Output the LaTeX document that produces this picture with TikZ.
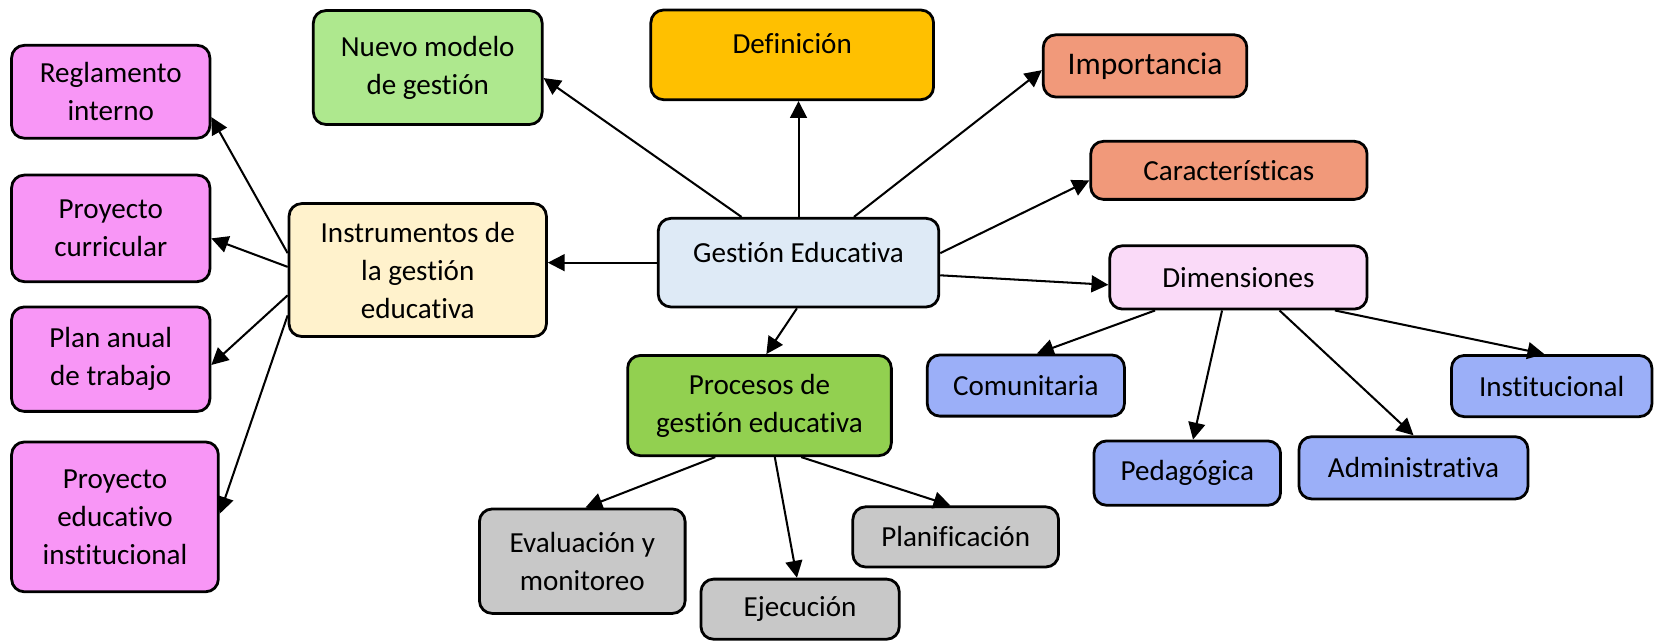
\documentclass[tikz,border=0pt]{standalone}
\usepackage{fontspec}
\setmainfont{Carlito}[Ligatures=NoCommon]
\usetikzlibrary{arrows.meta}
\definecolor{rosa}{HTML}{F896F6}
\definecolor{verdeclaro}{HTML}{AEE88E}
\definecolor{dorado}{HTML}{FFC000}
\definecolor{salmon}{HTML}{F1997A}
\definecolor{crema}{HTML}{FFF2CC}
\definecolor{celeste}{HTML}{DEEAF6}
\definecolor{rosaclaro}{HTML}{FADAF8}
\definecolor{verde}{HTML}{92D050}
\definecolor{gris}{HTML}{C8C8C8}
\definecolor{azul}{HTML}{9BAFF8}
\begin{document}
\begin{tikzpicture}[
    caja/.style={draw=black,line width=1.5pt,rounded corners=0.24cm,align=center,inner sep=2pt,
      font=\fontsize{15.7}{20.5}\selectfont},
    flecha/.style={-{Triangle[length=0.32cm,width=0.32cm]},line width=1.1pt}]
    \useasboundingbox (0,0) rectangle (31.36,12.18);

    % centro
    \node[caja,fill=celeste,minimum width=5.32cm,minimum height=1.68cm,text depth=0.40cm] (gestion) at (15.14,7.20) {Gestión Educativa};

    % arriba
    \node[caja,fill=verdeclaro,minimum width=4.34cm,minimum height=2.16cm] (nuevo) at (8.11,10.90) {Nuevo modelo\\de gestión};
    \node[caja,fill=dorado,minimum width=5.36cm,minimum height=1.70cm,text depth=0.42cm] (defin) at (15.02,11.14) {Definición};
    \node[caja,fill=salmon,minimum width=3.86cm,minimum height=1.18cm,font=\fontsize{17}{20.5}\selectfont] (impor) at (21.71,10.93) {Importancia};
    \node[caja,fill=salmon,minimum width=5.24cm,minimum height=1.10cm] (carac) at (23.30,8.95) {Características};
    \node[caja,fill=rosaclaro,minimum width=4.88cm,minimum height=1.20cm] (dimen) at (23.48,6.92) {Dimensiones};

    % instrumentos
    \node[caja,fill=crema,minimum width=4.88cm,minimum height=2.52cm] (instr) at (7.92,7.06) {Instrumentos de\\la gestión\\educativa};
    \node[caja,fill=rosa,minimum width=3.76cm,minimum height=1.76cm] (regla) at (2.10,10.44) {Reglamento\\interno};
    \node[caja,fill=rosa,minimum width=3.76cm,minimum height=2.02cm] (proycur) at (2.10,7.85) {Proyecto\\curricular};
    \node[caja,fill=rosa,minimum width=3.76cm,minimum height=1.98cm] (plan) at (2.10,5.37) {Plan anual\\de trabajo};
    \node[caja,fill=rosa,minimum width=3.92cm,minimum height=2.84cm] (pei) at (2.18,2.38) {Proyecto\\educativo\\institucional};

    % procesos
    \node[caja,fill=verde,minimum width=5.00cm,minimum height=1.90cm] (procesos) at (14.40,4.49) {Procesos de\\gestión educativa};
    \node[caja,fill=gris,minimum width=3.90cm,minimum height=1.98cm] (evalua) at (11.04,1.54) {Evaluación y\\monitoreo};
    \node[caja,fill=gris,minimum width=3.76cm,minimum height=1.14cm] (ejecu) at (15.17,0.63) {Ejecución};
    \node[caja,fill=gris,minimum width=3.90cm,minimum height=1.14cm] (plani) at (18.12,2.00) {Planificación};

    % dimensiones
    \node[caja,fill=azul,minimum width=3.74cm,minimum height=1.16cm] (comun) at (19.45,4.87) {Comunitaria};
    \node[caja,fill=azul,minimum width=3.54cm,minimum height=1.22cm] (pedag) at (22.51,3.21) {Pedagógica};
    \node[caja,fill=azul,minimum width=4.34cm,minimum height=1.18cm] (admin) at (26.80,3.31) {Administrativa};
    \node[caja,fill=azul,minimum width=3.80cm,minimum height=1.16cm] (insti) at (29.42,4.86) {Institucional};

    % flechas desde el centro
    \draw[flecha] ([xshift=-1.08cm]gestion.north) -- ([yshift=-0.20cm]nuevo.east);
    \draw[flecha] (gestion.north) -- (gestion.north |- defin.south);
    \draw[flecha] ([xshift=1.05cm]gestion.north) -- ([yshift=-0.08cm]impor.west);
    \draw[flecha] ([yshift=0.18cm]gestion.east) -- ([yshift=-0.19cm]carac.west);
    \draw[flecha] ([yshift=-0.24cm]gestion.east) -- ([yshift=-0.14cm]dimen.west);
    \draw[flecha] (gestion.west) -- (gestion.west -| instr.east);
    \draw[flecha] ([xshift=-0.03cm]gestion.south) -- ([xshift=0.13cm]procesos.north);

    % instrumentos
    \draw[flecha] ([yshift=0.32cm]instr.west) -- ([yshift=-0.48cm]regla.east);
    \draw[flecha] ([yshift=0.06cm]instr.west) -- ([yshift=-0.19cm]proycur.east);
    \draw[flecha] ([yshift=-0.48cm]instr.west) -- ([yshift=-0.11cm]plan.east);
    \draw[flecha] ([yshift=-0.86cm]instr.west) -- ([yshift=0.06cm]pei.east);

    % procesos
    \draw[flecha] ([xshift=-0.84cm]procesos.south) -- ([xshift=0.06cm]evalua.north);
    \draw[flecha] ([xshift=0.29cm]procesos.south) -- ([xshift=-0.06cm]ejecu.north);
    \draw[flecha] ([xshift=0.79cm]procesos.south) -- ([xshift=-0.10cm]plani.north);

    % dimensiones
    \draw[flecha] ([xshift=-1.58cm]dimen.south) -- ([xshift=0.21cm]comun.north);
    \draw[flecha] ([xshift=-0.31cm]dimen.south) -- ([xshift=0.11cm]pedag.north);
    \draw[flecha] ([xshift=0.78cm]dimen.south) -- (admin.north);
    \draw[flecha] ([xshift=1.83cm]dimen.south) -- ([xshift=-0.14cm]insti.north);
\end{tikzpicture}
\end{document}
